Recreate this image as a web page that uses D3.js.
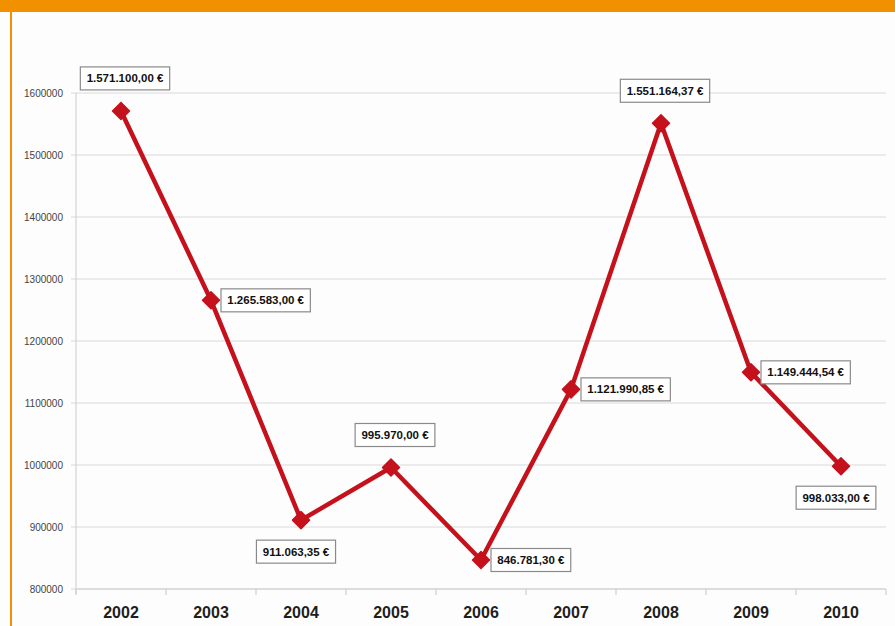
<!DOCTYPE html>
<html><head><meta charset="utf-8">
<script src="https://cdn.jsdelivr.net/npm/d3@7"></script>
<style>
html,body{margin:0;padding:0;background:#fdfdfd;}
svg{display:block;}
</style></head>
<body>
<svg id="chart" width="895" height="626"></svg>
<script>
const years = ["2002","2003","2004","2005","2006","2007","2008","2009","2010"];
const values = [1571100.00, 1265583.00, 911063.35, 995970.00, 846781.30, 1121990.85, 1551164.37, 1149444.54, 998033.00];
const yTicks = [800000, 900000, 1000000, 1100000, 1200000, 1300000, 1400000, 1500000, 1600000];
const labelPlacement = ["above","right","below","above","right","right","above","right","below"];

(function(){
const svg = d3.select("#chart");
const W = 895, H = 626;
const pLeft = 76, pRight = 886, pTop = 93, pBottom = 589;
const red = "#c4111c";

// frame
svg.append("rect").attr("x",0).attr("y",0).attr("width",W).attr("height",12).attr("fill","#f29100");
svg.append("rect").attr("x",10).attr("y",12).attr("width",2).attr("height",H-12).attr("fill","#f29100");

const x = d3.scaleBand().domain(years).range([pLeft, pRight]).padding(0);
const y = d3.scaleLinear().domain([800000, 1600000]).range([pBottom, pTop]);

// gridlines
svg.append("g").selectAll("line").data(yTicks).join("line")
  .attr("x1", pLeft-5).attr("x2", pRight)
  .attr("y1", d=>y(d)).attr("y2", d=>y(d))
  .attr("stroke", "#d9d9d9").attr("stroke-width",1.2);

// y axis line
svg.append("line").attr("x1",pLeft).attr("x2",pLeft).attr("y1",pTop).attr("y2",pBottom+5)
  .attr("stroke","#d4d4d4").attr("stroke-width",1.2);

// y tick labels
svg.append("g").selectAll("text").data(yTicks).join("text")
  .attr("x", 63).attr("y", d=>y(d)).attr("dy","0.35em")
  .attr("text-anchor","end")
  .attr("font-family","'Liberation Sans Narrow','Liberation Sans',Arial,sans-serif")
  .attr("font-size","10px").attr("fill","#444")
  .text(d=>d3.format("d")(d));

// x axis
svg.append("line").attr("x1",pLeft).attr("x2",pRight).attr("y1",pBottom).attr("y2",pBottom)
  .attr("stroke","#d0d0d0").attr("stroke-width",1.2);
const xEdges = years.map(d=>x(d)).concat([pRight]);
svg.append("g").selectAll("line").data(xEdges).join("line")
  .attr("x1",d=>d).attr("x2",d=>d).attr("y1",pBottom).attr("y2",pBottom+6)
  .attr("stroke","#d0d0d0").attr("stroke-width",1.2);
svg.append("g").selectAll("text").data(years).join("text")
  .attr("x", d=>x(d)+x.bandwidth()/2).attr("y", 612).attr("dy","0.35em")
  .attr("text-anchor","middle")
  .attr("font-family","'Liberation Sans Narrow','Liberation Sans',Arial,sans-serif")
  .attr("font-weight","bold").attr("font-size","16px").attr("fill","#1e1e1e")
  .text(d=>d);

const pts = years.map((d,i)=>({year:d, v:values[i], px:x(d)+x.bandwidth()/2, py:y(values[i]), pos:labelPlacement[i]}));

// line
svg.append("path").datum(pts)
  .attr("d", d3.line().x(d=>d.px).y(d=>d.py))
  .attr("fill","none").attr("stroke",red).attr("stroke-width",4.5).attr("stroke-linejoin","round");

// markers
svg.append("g").selectAll("path").data(pts).join("path")
  .attr("transform", d=>`translate(${d.px},${d.py})`)
  .attr("d", "M0,-8.5L8.5,0L0,8.5L-8.5,0Z")
  .attr("fill",red).attr("stroke",red).attr("stroke-width",1.5).attr("stroke-linejoin","round");

// labels
const loc = d3.formatLocale({decimal:",", thousands:".", grouping:[3], currency:["","€"]});
const fmt = loc.format(",.2f");
const lg = svg.append("g").selectAll("g").data(pts).join("g");
lg.each(function(d){
  const g = d3.select(this);
  const t = g.append("text")
    .attr("font-family","'Liberation Sans Narrow','Liberation Sans',Arial,sans-serif")
    .attr("font-weight","bold").attr("font-size","11.5px").attr("fill","#111")
    .attr("text-anchor","middle").attr("dy","0.35em")
    .text(fmt(d.v) + " €");
  const bw = t.node().getBBox().width + 12, bh = 23;
  let cx, cy;
  if (d.pos === "right") { cx = d.px + 10 + bw/2; cy = d.py; }
  else if (d.pos === "above") { cx = d.px + 4; cy = d.py - 21 - bh/2; }
  else { cx = d.px - 5; cy = d.py + 20 + bh/2; }
  g.insert("rect","text").attr("x",cx-bw/2).attr("y",cy-bh/2).attr("width",bw).attr("height",bh)
    .attr("fill","#fff").attr("stroke","#8a8a8a").attr("stroke-width",1.2);
  t.attr("x",cx).attr("y",cy);
});
})();
</script>
</body></html>
